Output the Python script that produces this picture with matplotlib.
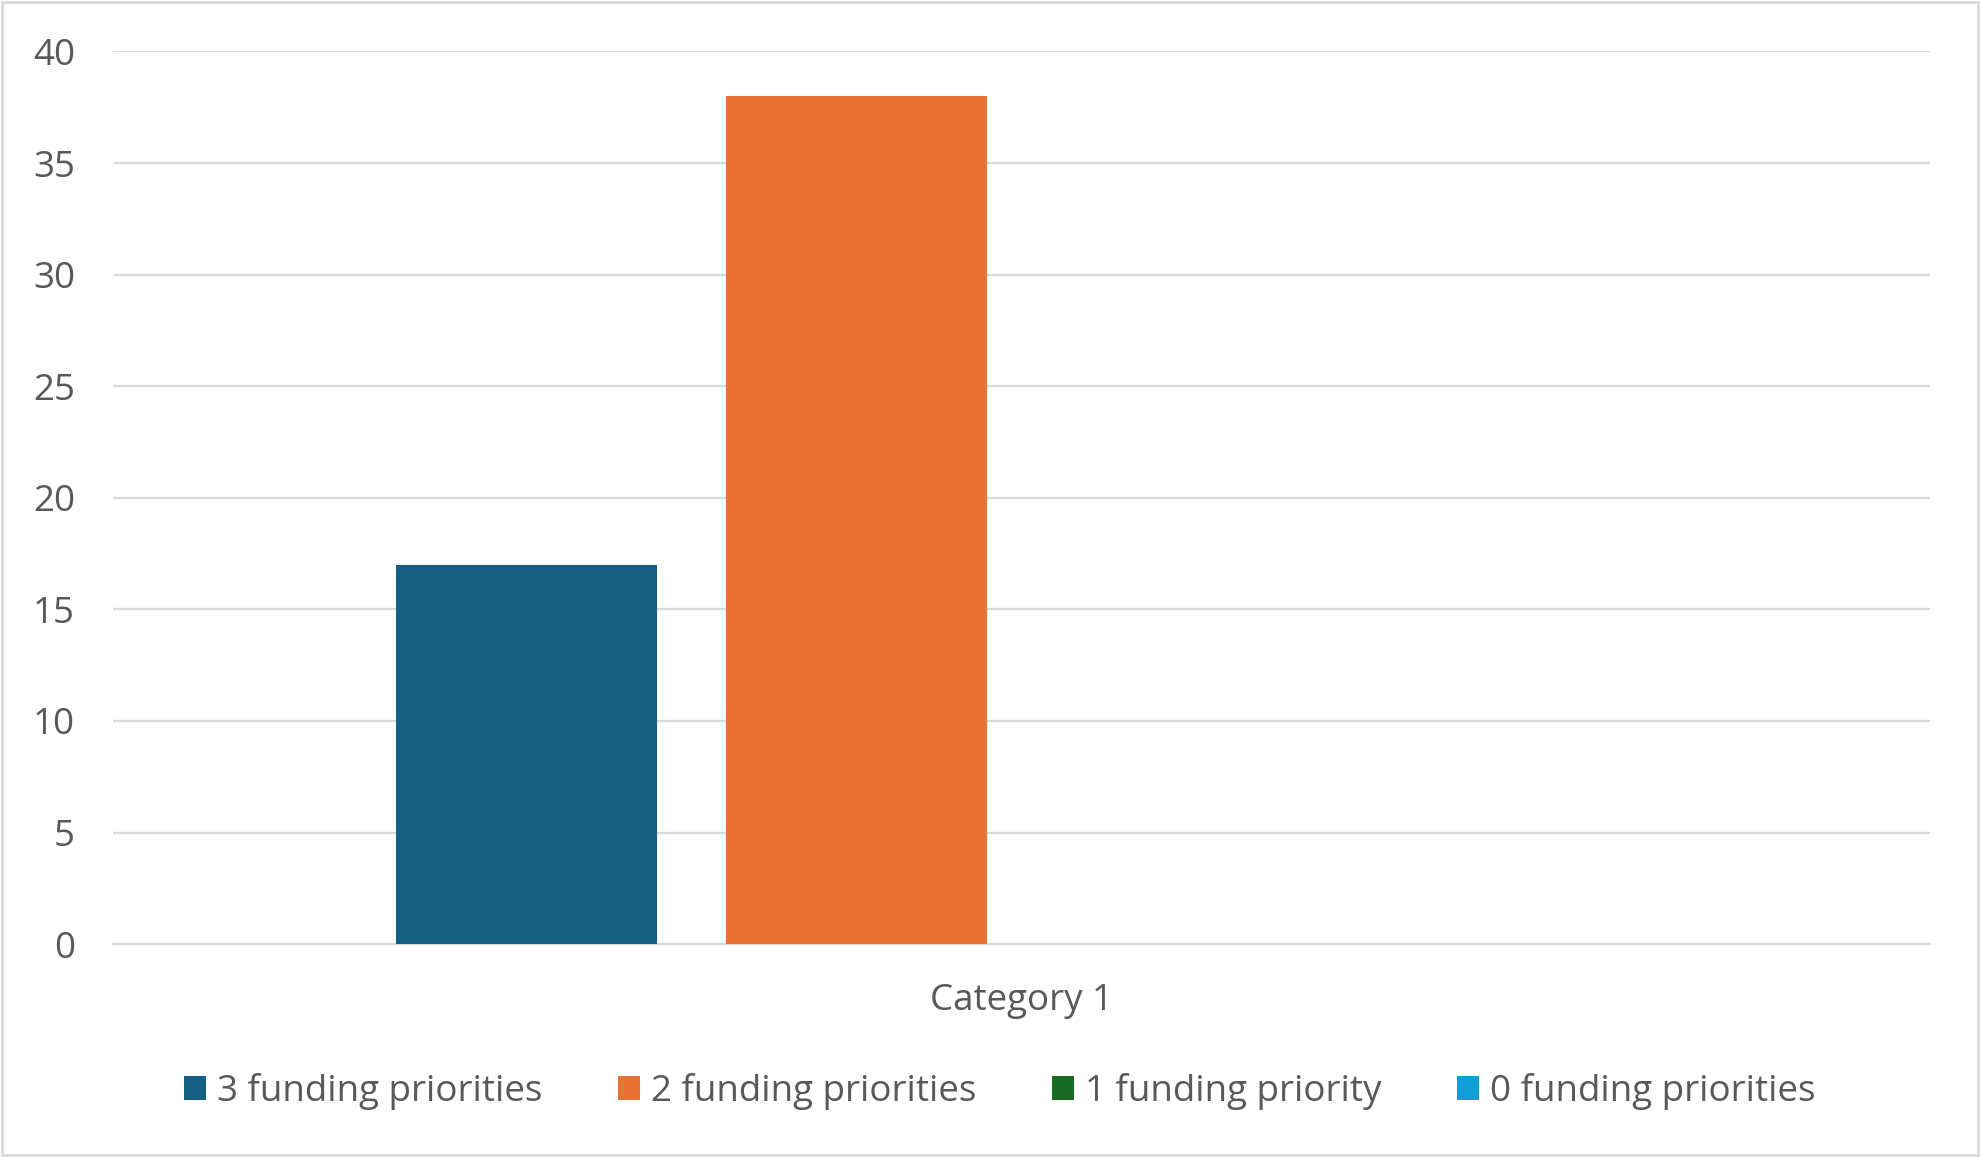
import matplotlib
matplotlib.use("Agg")
import matplotlib.pyplot as plt
from matplotlib.patches import Rectangle

categories = ["Category 1"]
series_names = ["3 funding priorities", "2 funding priorities", "1 funding priority", "0 funding priorities"]
series_values = [[17], [38], [0], [0]]
colors = ["#156082", "#E97132", "#196B24", "#0F9ED5"]
yticks = [0, 5, 10, 15, 20, 25, 30, 35, 40]

plt.rcParams['font.family'] = ['Open Sans', 'DejaVu Sans']
text_color = "#595959"
grid_color = "#D9D9D9"
fs = 26.5

fig = plt.figure(figsize=(19.82, 11.57), dpi=100)
ax = fig.add_axes([0.0568, 0.184, 0.9170, 0.7715])

w = 206 / 1438
step = (206 + 55) / 1438
handles = []
for i, (name, vals, c) in enumerate(zip(series_names, series_values, colors)):
    xs = [j + (i - 1.5) * step for j in range(len(categories))]
    b = ax.bar(xs, vals, width=w, color=c, label=name, zorder=3)
    handles.append(b)

ax.set_xlim(-0.5, len(categories) - 0.5)
ax.set_ylim(0, 40)
ax.set_yticks(yticks)
ax.set_xticks(range(len(categories)))
ax.set_xticklabels(categories)
ax.yaxis.grid(True, color=grid_color, linewidth=1.6, zorder=0)
ax.set_axisbelow(True)
for s in ["top", "right", "left"]:
    ax.spines[s].set_visible(False)
ax.spines["bottom"].set_color(grid_color)
ax.spines["bottom"].set_linewidth(1.6)
ax.tick_params(axis="both", length=0, labelsize=fs, colors=text_color)
ax.tick_params(axis="y", pad=27)
ax.tick_params(axis="x", pad=28)

leg = fig.legend(handles=handles, labels=series_names, loc="center", bbox_to_anchor=(0.5045, 0.0565),
                 ncol=4, frameon=False, fontsize=fs, handlelength=0.6, handleheight=0.6,
                 handletextpad=0.3, columnspacing=2.05)
for t in leg.get_texts():
    t.set_color(text_color)

fig.patches.append(Rectangle((0.001, 0.002), 0.997, 0.996, transform=fig.transFigure,
                             fill=False, edgecolor=grid_color, linewidth=2))
fig.savefig("out.png", dpi=100, facecolor="white")
